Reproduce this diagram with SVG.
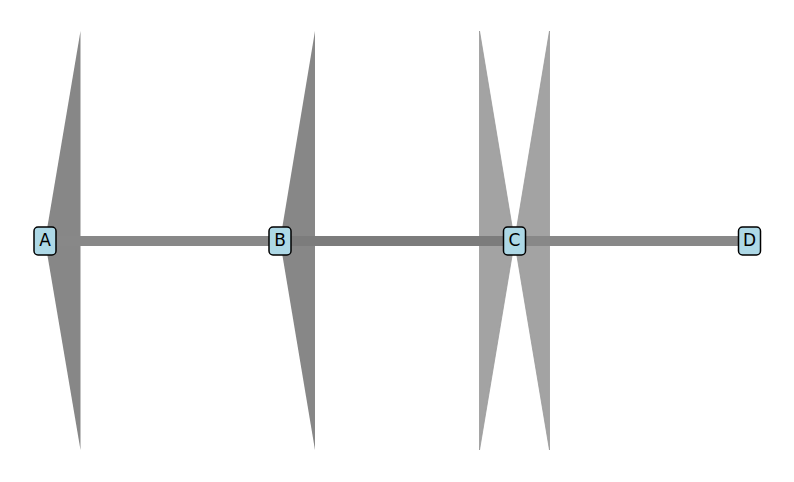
<svg xmlns="http://www.w3.org/2000/svg" width="794" height="482" viewBox="0 0 794 482">
<style>
.tri{fill:#878787}
.tri2{fill:#a3a3a3;stroke:#999;stroke-width:0.8}
.edge{stroke:#888888;stroke-width:10;fill:none}
.node rect{fill:#add8e6;stroke:#000;stroke-width:1.5}
.node text{font-family:"DejaVu Sans",sans-serif;font-size:17px;text-anchor:middle;fill:#000}
</style>
<rect width="794" height="482" fill="#fff"/>
<g id="heads">
<polygon class="tri" points="80.5,31 80.5,450 45,241"/>
<polygon class="tri" points="315,31 315,450 280,241"/>
<polygon class="tri2" points="479.5,31 479.5,450 514.5,241"/>
<polygon class="tri2" points="549.5,31 549.5,450 514.5,241"/>
</g>
<g id="connectors">
<line class="edge" x1="45" y1="241" x2="280" y2="241"/>
<line class="edge" x1="280" y1="241" x2="514.5" y2="241" style="stroke:#7c7c7c"/>
<line class="edge" x1="514.5" y1="241" x2="749.5" y2="241"/>
</g>
<g id="A" class="node"><rect x="34" y="227" width="22" height="28" rx="4"/><text x="45" y="245.5">A</text></g>
<g id="B" class="node"><rect x="269" y="227" width="22" height="28" rx="4"/><text x="280" y="245.5">B</text></g>
<g id="C" class="node"><rect x="503.5" y="227" width="22" height="28" rx="4"/><text x="514.5" y="245.5">C</text></g>
<g id="D" class="node"><rect x="738.5" y="227" width="22" height="28" rx="4"/><text x="749.5" y="245.5">D</text></g>
</svg>
